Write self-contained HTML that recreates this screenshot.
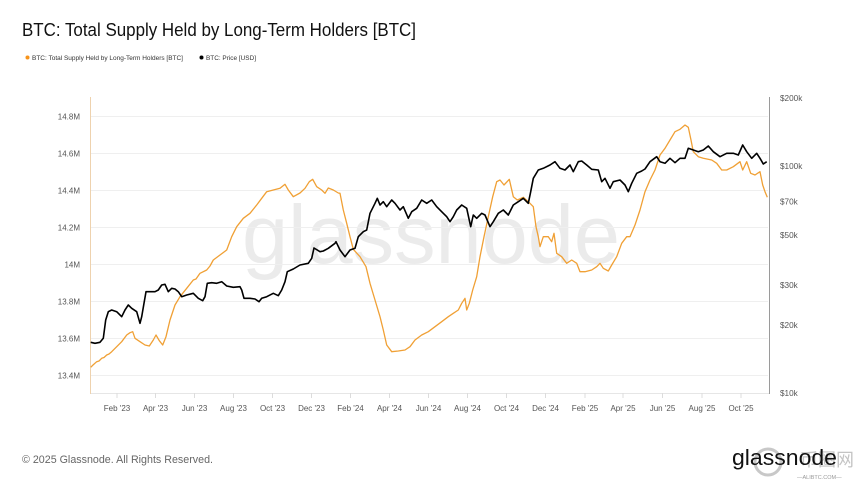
<!DOCTYPE html>
<html><head><meta charset="utf-8"><style>
html,body{margin:0;padding:0;background:#fff;width:860px;height:484px;overflow:hidden}
svg{display:block}
text{font-family:"Liberation Sans","Noto Sans CJK SC",sans-serif}
</style></head><body>
<svg width="860" height="484" viewBox="0 0 860 484" xmlns="http://www.w3.org/2000/svg">
<rect width="860" height="484" fill="#fff"/>
<text x="22" y="36" font-size="18" fill="#111" textLength="394" lengthAdjust="spacingAndGlyphs">BTC: Total Supply Held by Long-Term Holders [BTC]</text>
<circle cx="27.5" cy="57.5" r="2" fill="#f7931a"/>
<text x="32" y="60" font-size="6.6" fill="#333" textLength="151" lengthAdjust="spacingAndGlyphs">BTC: Total Supply Held by Long-Term Holders [BTC]</text>
<circle cx="201.5" cy="57.5" r="2" fill="#000"/>
<text x="206" y="60" font-size="6.6" fill="#333" textLength="50" lengthAdjust="spacingAndGlyphs">BTC: Price [USD]</text>

<!-- watermark -->
<text x="242" y="263" font-size="83" fill="#ebebeb" textLength="378" lengthAdjust="spacingAndGlyphs">glassnode</text>

<!-- gridlines -->
<g stroke="#efefef" stroke-width="1">
<line x1="91" y1="116.5" x2="768" y2="116.5"/>
<line x1="91" y1="153.5" x2="768" y2="153.5"/>
<line x1="91" y1="190.5" x2="768" y2="190.5"/>
<line x1="91" y1="227.5" x2="768" y2="227.5"/>
<line x1="91" y1="264.5" x2="768" y2="264.5"/>
<line x1="91" y1="301.5" x2="768" y2="301.5"/>
<line x1="91" y1="338.5" x2="768" y2="338.5"/>
<line x1="91" y1="375.5" x2="768" y2="375.5"/>
</g>
<line x1="90" y1="393.5" x2="769" y2="393.5" stroke="#e6e6e6"/>
<line x1="90.5" y1="97" x2="90.5" y2="394" stroke="#eed2ae" stroke-width="1"/>
<line x1="769.5" y1="97" x2="769.5" y2="394" stroke="#9a9a9a" stroke-width="1"/>

<!-- x ticks -->
<g stroke="#dcdcdc" stroke-width="1">
<line x1="117" y1="393" x2="117" y2="398"/><line x1="155.5" y1="393" x2="155.5" y2="398"/><line x1="194.5" y1="393" x2="194.5" y2="398"/><line x1="233.5" y1="393" x2="233.5" y2="398"/><line x1="272.5" y1="393" x2="272.5" y2="398"/><line x1="311.5" y1="393" x2="311.5" y2="398"/><line x1="350.5" y1="393" x2="350.5" y2="398"/><line x1="389.5" y1="393" x2="389.5" y2="398"/><line x1="428.5" y1="393" x2="428.5" y2="398"/><line x1="467.5" y1="393" x2="467.5" y2="398"/><line x1="506.5" y1="393" x2="506.5" y2="398"/><line x1="545.5" y1="393" x2="545.5" y2="398"/><line x1="585" y1="393" x2="585" y2="398"/><line x1="623" y1="393" x2="623" y2="398"/><line x1="662.5" y1="393" x2="662.5" y2="398"/><line x1="702" y1="393" x2="702" y2="398"/><line x1="741" y1="393" x2="741" y2="398"/>
</g>
<g font-size="8" fill="#555" text-anchor="middle">
<text x="117" y="411">Feb '23</text><text x="155.5" y="411">Apr '23</text><text x="194.5" y="411">Jun '23</text><text x="233.5" y="411">Aug '23</text><text x="272.5" y="411">Oct '23</text><text x="311.5" y="411">Dec '23</text><text x="350.5" y="411">Feb '24</text><text x="389.5" y="411">Apr '24</text><text x="428.5" y="411">Jun '24</text><text x="467.5" y="411">Aug '24</text><text x="506.5" y="411">Oct '24</text><text x="545.5" y="411">Dec '24</text><text x="585" y="411">Feb '25</text><text x="623" y="411">Apr '25</text><text x="662.5" y="411">Jun '25</text><text x="702" y="411">Aug '25</text><text x="741" y="411">Oct '25</text>
</g>

<!-- left axis labels -->
<g font-size="8" fill="#555" text-anchor="end">
<text x="80" y="119.5">14.8M</text><text x="80" y="156.5">14.6M</text><text x="80" y="193.5">14.4M</text><text x="80" y="230.5">14.2M</text><text x="80" y="267.5">14M</text><text x="80" y="304.5">13.8M</text><text x="80" y="341.5">13.6M</text><text x="80" y="378.5">13.4M</text>
</g>
<!-- right axis labels -->
<g font-size="8.2" fill="#555">
<text x="780" y="101">$200k</text><text x="780" y="169">$100k</text><text x="780" y="204.5">$70k</text><text x="780" y="238">$50k</text><text x="780" y="288">$30k</text><text x="780" y="328">$20k</text><text x="780" y="396">$10k</text>
</g>

<!-- orange series -->
<path fill="none" stroke="#f0a035" stroke-width="1.3" stroke-linejoin="round" d="M90.7,367.3 L93,365 L96.7,361.7 L99,361 L101.7,358.3 L104,357.5 L106.7,355 L109,354 L111.7,351.7 L116.7,346.7 L121.7,341.7 L126.7,335 L130,332.7 L132.7,331.7 L135,338.3 L140,341.7 L145,345 L149.3,346 L153.3,340 L156,335 L159.3,340.7 L162.7,345 L166,336.7 L170,320 L175,305 L180,296.7 L186.7,288.3 L193.3,280 L196,279 L200,273.3 L206.7,270 L210,266 L213.3,260 L220,255 L226.7,250 L231.7,236.7 L236.7,226.7 L243.3,218.3 L250,213.3 L256.7,205 L261.7,198.3 L266.7,191.7 L273.3,190 L280,188.3 L285,184.3 L288.3,190 L293.3,196.7 L300,193 L305,188.3 L309.3,181.7 L312.7,179.3 L316.7,186.7 L321.7,190 L325,193.3 L328.3,188 L333.3,190 L338.3,193 L340,193.3 L343.3,210 L346.7,223.3 L350,236.7 L353.3,249.3 L360,256.7 L366,266.7 L370,283.3 L375,300 L380,316.7 L383.3,330 L386.7,345 L391.7,351.7 L398.3,351 L405,350 L410,346.7 L415,340 L421.7,335 L428.3,331.7 L435,326.7 L441.7,321.7 L448.3,316.7 L453.3,313.3 L458.3,310 L461.7,303.3 L465,298.3 L466.7,310 L469.3,303.3 L472.7,290 L476.7,276.7 L480,256.7 L484,236.7 L488.3,216.7 L492.7,196.7 L496.7,181.7 L500,180 L504,185 L509.3,179.3 L513.3,196.7 L517.3,200 L523.3,197.3 L528.3,201.7 L533.3,206.7 L536,226.7 L538.3,236.7 L540,246.7 L543.3,236.7 L548.3,236.7 L551.7,241.7 L554,233.3 L556.7,253.3 L561.7,256.7 L566.7,263.3 L571.7,260 L576.7,263.3 L580,271.7 L585,271.7 L591.7,270 L596.7,266.7 L600,263.3 L603.3,268.3 L608.3,271 L611.7,265 L616.7,256.7 L621.7,243.3 L626.7,236.7 L630,236.7 L635,225 L640,210 L645,191.7 L650,180 L655,170 L660,155 L665,148.3 L670,140 L675,131.7 L680,129.3 L685,125 L688.3,127.3 L691,140 L693.3,151.7 L698.3,156.7 L703.3,158.3 L711.7,160 L716.7,163.3 L721.7,170 L726.7,170 L733.3,166.7 L740,161.7 L742.7,170 L746.7,161.7 L750.7,173.3 L755,175 L760,171.7 L762.7,185 L765,191.7 L767.3,197.3"/>

<!-- black series -->
<path fill="none" stroke="#000" stroke-width="1.6" stroke-linejoin="round" d="M90.7,342.3 L95,343.3 L100,342.3 L103.3,338.3 L105.7,320 L108.3,311.7 L111.7,310 L116.7,311.7 L121.7,316.7 L125,310 L128.3,305 L131.7,308.3 L136.7,311.7 L140,323.3 L141.7,316.7 L144,303.3 L146,291.7 L150,291.7 L155,291.7 L158.3,290 L161.7,285 L165,284.3 L168.3,291.7 L171.7,288.3 L175,289 L178.3,291.7 L181.7,296.7 L186.7,295 L193.3,293.3 L198.3,298.3 L202.7,300.7 L205,296.7 L207.3,283.3 L211.7,282.7 L216.7,283.3 L221.7,281.7 L226.7,286 L233.3,287.3 L240,286.7 L241.7,290 L244,298.3 L250,298.3 L255,299 L259,301.7 L261.7,298.3 L266.7,296.7 L273.3,293.3 L278.3,295.7 L281.7,290 L285,281.7 L287.3,271.7 L293.3,269 L300,265 L308.3,263.3 L311.7,258.3 L314,248 L320,251.7 L323.3,251 L328.3,248.3 L335,243.3 L336,241.7 L340,250 L345,256.7 L350,250 L355,248.3 L358.3,236.7 L363.3,231.7 L366.7,230 L370,213.3 L375,203.3 L377.3,198.3 L380,205 L383.3,201.7 L386.7,206.7 L391.7,200 L395,203.3 L400,210 L403.3,206.7 L408.3,218.3 L411.7,211.7 L416.7,208.3 L421.7,200 L426.7,203.3 L431.7,200 L436.7,206.7 L443.3,213.3 L446.7,216.7 L450,221.7 L453.3,216.7 L456.7,210 L461.7,205 L466.7,208.3 L470.7,226.7 L473.3,215 L476.7,218.3 L481.7,213.3 L485,215 L490,226.7 L493.3,221.7 L498.3,213.3 L503.3,210 L508.3,215 L513.3,205 L518.3,201.7 L523.3,198.3 L528.3,203.3 L530.7,191.7 L533.3,178.3 L538.3,170 L543.3,168.3 L550,165 L555,161.7 L560,168.3 L565,170 L570,165 L573.3,171.7 L578.3,161.7 L581.7,161 L586.7,165 L591.7,169.3 L598.3,170 L601.7,181.7 L605,178.3 L610,188.3 L613.3,181.7 L620,180 L625,185 L628.3,191.7 L631.7,183.3 L636.7,173.3 L641.7,171 L645,169 L650,161.7 L656.7,156.7 L660,161.7 L665,163.3 L670,158.3 L675,162.7 L680,158.3 L685,158.3 L688.3,148.3 L693.3,150 L698.3,151.7 L703.3,150 L708.3,146 L713.3,151.7 L720,156.7 L726.7,153.3 L733.3,153.3 L738.3,155 L742.7,145 L746.7,151.7 L751.7,158.3 L756.7,153.3 L760,158.3 L763.3,164 L766.7,161.7"/>

<!-- footer -->
<text x="22" y="463" font-size="11" fill="#666" textLength="191" lengthAdjust="spacingAndGlyphs">© 2025 Glassnode. All Rights Reserved.</text>
<circle cx="768" cy="462" r="13" fill="none" stroke="#c8c8c8" stroke-width="3"/>
<text x="800" y="466" font-size="18" fill="#c4c4c4">币圈网</text>
<text x="797" y="479" font-size="5.5" fill="#999">—ALIBTC.COM—</text>
<text x="732" y="465" font-size="22" fill="#111" textLength="105" lengthAdjust="spacingAndGlyphs">glassnode</text>
</svg>
</body></html>
